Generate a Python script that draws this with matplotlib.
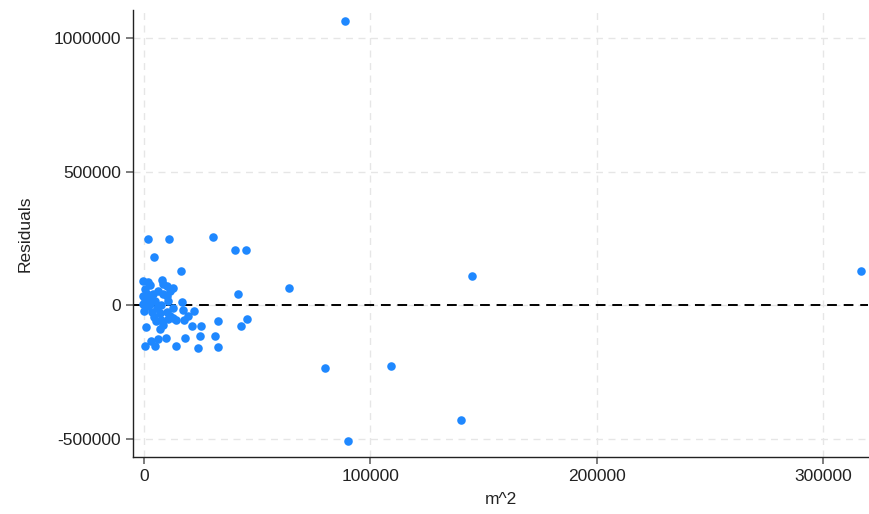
import numpy as np
import matplotlib.pyplot as plt

plt.rcParams['font.family'] = ['Liberation Sans', 'DejaVu Sans']

# m^2 values and residuals
m2 = [89000, 317000, 145000, 64000, 80000, 109000, 140000, 90000,
      1900, 10900, 30700, 40200, 44900, 4500, 16300, 41400, 45700, 43000,
      32600, 25400, 21100, 31400, 24700, 18200, 32900, 23900, 14100, 5000,
      300, 3200, 900, 6200, 9800, 7300, 8500, 10700, 12900, 17800, 19500,
      22200, 17300, 12900, 16600, -300, 1900, 7800, 10000, 12900, 11500,
      8500, 6300, 400, -300, 2600, 4800, 10700, -300, 1900, 5600, 0, 3400,
      7000, 4400, 8500, 2600, 1300, 4200, 10000, 500, 2600, 7600, 10000,
      11500, 14100, 7600, 5400]
resid = [1063000, 127000, 108000, 66000, -235000, -228000, -429000, -511000,
         246000, 249000, 256000, 206000, 206000, 180000, 128000, 42000,
         -52000, -77000, -58000, -77000, -80000, -117000, -117000, -123000,
         -158000, -162000, -155000, -154000, -155000, -133000, -83000,
         -127000, -124000, -90000, -75000, -52000, -50000, -55000, -40000,
         -22000, -17000, -12000, 12000, 91000, 85000, 93000, 72000, 66000,
         53000, 41000, 53000, 60000, 35000, 29000, 16000, 16000, 4000, -5000,
         -12000, -21000, -27000, -30000, -46000, 80000, 75000, 41000, 41000,
         33000, 16000, 5000, 0, -27000, -40000, -55000, -55000, -60000]

xticks = [0, 100000, 200000, 300000]
yticks = [-500000, 0, 500000, 1000000]

fig = plt.figure(figsize=(8.7, 5.14), dpi=100)
ax = fig.add_axes([0.153, 0.111, 0.845, 0.869])

ax.scatter(m2, resid, s=38, color='#1f88ff', linewidths=0, zorder=3, clip_on=False)
ax.axhline(0, color='black', lw=1.4, ls=(0, (5, 3.5)), zorder=2)

ax.set_xlim(-4800, 320000)
ax.set_ylim(-569000, 1105000)
ax.set_xticks(xticks)
ax.set_yticks(yticks)
ax.set_xticklabels([str(v) for v in xticks])
ax.set_yticklabels([str(v) for v in yticks])

ax.grid(True, color='#e6e6e6', ls=(0, (5, 4)), lw=1.0)
ax.set_axisbelow(True)
for s in ['top', 'right']:
    ax.spines[s].set_visible(False)
for s in ['left', 'bottom']:
    ax.spines[s].set_color('#222222')
    ax.spines[s].set_linewidth(1.0)
ax.tick_params(direction='out', length=5, width=1.2, color='#666666', labelsize=12.5,
               labelcolor='#222222')

ax.set_xlabel('m^2', fontsize=12.5, color='#222222', labelpad=6)
ax.set_ylabel('Residuals', fontsize=12.5, color='#222222', labelpad=15)

fig.savefig('out.png', dpi=100)
